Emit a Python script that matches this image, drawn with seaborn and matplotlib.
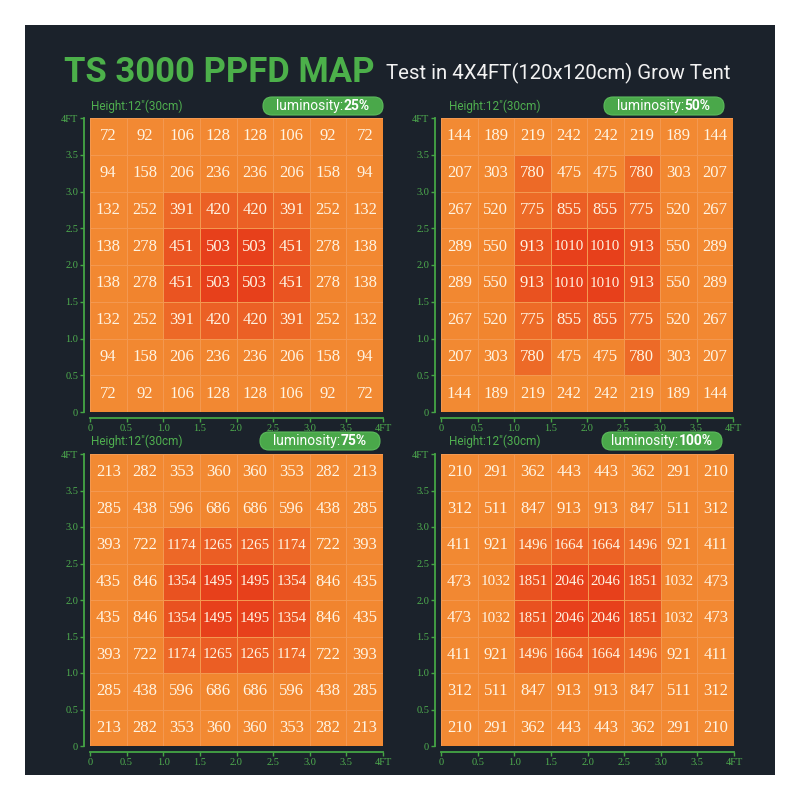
import numpy as np
import pandas as pd
import matplotlib
matplotlib.use("Agg")
import matplotlib.pyplot as plt
import seaborn as sns
from matplotlib.colors import LinearSegmentedColormap
from matplotlib.patches import FancyBboxPatch, Rectangle
from matplotlib import font_manager as fm

# ---------------- data ----------------
ppfd_25 = [
    [72, 92, 106, 128, 128, 106, 92, 72],
    [94, 158, 206, 236, 236, 206, 158, 94],
    [132, 252, 391, 420, 420, 391, 252, 132],
    [138, 278, 451, 503, 503, 451, 278, 138],
    [138, 278, 451, 503, 503, 451, 278, 138],
    [132, 252, 391, 420, 420, 391, 252, 132],
    [94, 158, 206, 236, 236, 206, 158, 94],
    [72, 92, 106, 128, 128, 106, 92, 72],
]
ppfd_50 = [
    [144, 189, 219, 242, 242, 219, 189, 144],
    [207, 303, 780, 475, 475, 780, 303, 207],
    [267, 520, 775, 855, 855, 775, 520, 267],
    [289, 550, 913, 1010, 1010, 913, 550, 289],
    [289, 550, 913, 1010, 1010, 913, 550, 289],
    [267, 520, 775, 855, 855, 775, 520, 267],
    [207, 303, 780, 475, 475, 780, 303, 207],
    [144, 189, 219, 242, 242, 219, 189, 144],
]
ppfd_75 = [
    [213, 282, 353, 360, 360, 353, 282, 213],
    [285, 438, 596, 686, 686, 596, 438, 285],
    [393, 722, 1174, 1265, 1265, 1174, 722, 393],
    [435, 846, 1354, 1495, 1495, 1354, 846, 435],
    [435, 846, 1354, 1495, 1495, 1354, 846, 435],
    [393, 722, 1174, 1265, 1265, 1174, 722, 393],
    [285, 438, 596, 686, 686, 596, 438, 285],
    [213, 282, 353, 360, 360, 353, 282, 213],
]
ppfd_100 = [
    [210, 291, 362, 443, 443, 362, 291, 210],
    [312, 511, 847, 913, 913, 847, 511, 312],
    [411, 921, 1496, 1664, 1664, 1496, 921, 411],
    [473, 1032, 1851, 2046, 2046, 1851, 1032, 473],
    [473, 1032, 1851, 2046, 2046, 1851, 1032, 473],
    [411, 921, 1496, 1664, 1664, 1496, 921, 411],
    [312, 511, 847, 913, 913, 847, 511, 312],
    [210, 291, 362, 443, 443, 362, 291, 210],
]
luminosity_labels = ["25%", "50%", "75%", "100%"]
x_tick_labels = ["0", "0.5", "1.0", "1.5", "2.0", "2.5", "3.0", "3.5", "4FT"]
y_tick_labels = x_tick_labels[::-1]
title_main = "TS 3000 PPFD MAP"
title_sub = "Test in 4X4FT(120x120cm) Grow Tent"
height_label = 'Height:12"(30cm)'

# ---------------- style ----------------
sns.set_theme(style="white")
names = {f.name for f in fm.fontManager.ttflist}
narrow = "Liberation Sans Narrow" if "Liberation Sans Narrow" in names else "Roboto"
plt.rcParams["font.family"] = ["DejaVu Sans"]

GREEN = "#45a545"
TXT_GREEN = "#4fae4f"
BG = "#1b222b"
cmap = LinearSegmentedColormap.from_list(
    "ppfd", [(0.0, "#f28a33"), (0.5, "#f1842e"), (0.78, "#ec6526"), (1.0, "#e7401b")]
)

W = H = 800
fig = plt.figure(figsize=(8, 8), dpi=100, facecolor="white")


def fx(px):
    return px / W


def fy(py):
    return 1 - py / H


fig.patches.append(Rectangle((fx(25), fy(775)), 750 / W, 750 / H,
                             transform=fig.transFigure, facecolor=BG,
                             edgecolor="none", zorder=-10))

renderer = fig.canvas.get_renderer()


def fit(t, width_px):
    bb = t.get_window_extent(renderer)
    t.set_fontsize(t.get_fontsize() * width_px / bb.width)


# title
t1 = fig.text(fx(64), fy(73), title_main, color="#4cb04a", fontweight="bold",
              family=[narrow, "DejaVu Sans"], va="center", ha="left", fontsize=28)
fit(t1, 310)
t2 = fig.text(fx(386), fy(73), title_sub, color="#f2f2f2",
              family=[narrow, "DejaVu Sans"], va="center", ha="left", fontsize=20)
fit(t2, 346)

# panels: (left, top, right, bottom) in px
rects = [(90, 118, 383, 412), (441, 118, 733, 412),
         (90, 454, 383, 746), (441, 454, 734, 746)]
datasets = [ppfd_25, ppfd_50, ppfd_75, ppfd_100]
pill_centers = [(323, 106), (664, 106), (320, 441), (662, 441)]
height_pos = [(91, 106), (449, 106), (91, 441), (449, 441)]

for (l, t, r, b), data, lum, (pcx, pcy), (hx, hy) in zip(
        rects, datasets, luminosity_labels, pill_centers, height_pos):
    df = pd.DataFrame(data)
    ax = fig.add_axes([fx(l), fy(b), (r - l) / W, (b - t) / H])
    ax.set_facecolor("none")
    vals = np.array(data)
    sns.heatmap(df, ax=ax, cmap=cmap, vmin=vals.min(), vmax=vals.max(),
                annot=True, fmt="d", cbar=False, linewidths=0.5,
                linecolor="#f39850",
                annot_kws=dict(color="#fff4e2", fontsize=12,
                               family="Liberation Serif"))
    for txt in ax.texts:
        if len(txt.get_text()) >= 4:
            txt.set_fontsize(10.8)
    ax.set_xticks(np.arange(9))
    ax.set_xticklabels(x_tick_labels, rotation=0)
    ax.set_yticks(np.arange(9))
    ax.set_yticklabels(y_tick_labels, rotation=90, va="center")
    ax.set_xlabel("")
    ax.set_ylabel("")
    for s in ["left", "bottom"]:
        ax.spines[s].set_visible(True)
        ax.spines[s].set_color(GREEN)
        ax.spines[s].set_linewidth(1.3)
        ax.spines[s].set_position(("outward", 4))
    for s in ["top", "right"]:
        ax.spines[s].set_visible(False)
    ax.tick_params(colors=GREEN, length=3, width=1, labelsize=7.5, pad=1.5,
                   left=True, bottom=True)
    for lbl in ax.get_xticklabels() + ax.get_yticklabels():
        lbl.set_family("Liberation Serif")
        lbl.set_color(TXT_GREEN)

    # height label
    fig.text(fx(hx), fy(hy), height_label, color=TXT_GREEN, fontsize=8.5,
             family=[narrow, "DejaVu Sans"], va="center", ha="left")

    # luminosity pill
    pw, ph = 120, 18
    fig.patches.append(FancyBboxPatch((fx(pcx - pw / 2), fy(pcy + ph / 2)), pw / W, ph / H,
                                      boxstyle=f"round,pad=0,rounding_size={9 / W}",
                                      transform=fig.transFigure, facecolor="#4aa84a",
                                      edgecolor="#5cbc5c", linewidth=0.8, zorder=2))
    ta = fig.text(0, fy(pcy), "luminosity:", color="white", fontsize=10,
                  family=[narrow, "DejaVu Sans"], va="center", ha="left", zorder=3)
    tb = fig.text(0, fy(pcy), lum, color="white", fontsize=10, fontweight="bold",
                  family=[narrow, "DejaVu Sans"], va="center", ha="left", zorder=3)
    wa = ta.get_window_extent(renderer).width
    wb = tb.get_window_extent(renderer).width
    start = pcx - (wa + wb) / 2
    ta.set_x(fx(start))
    tb.set_x(fx(start + wa))

fig.savefig("out.png", dpi=100, facecolor="white")
